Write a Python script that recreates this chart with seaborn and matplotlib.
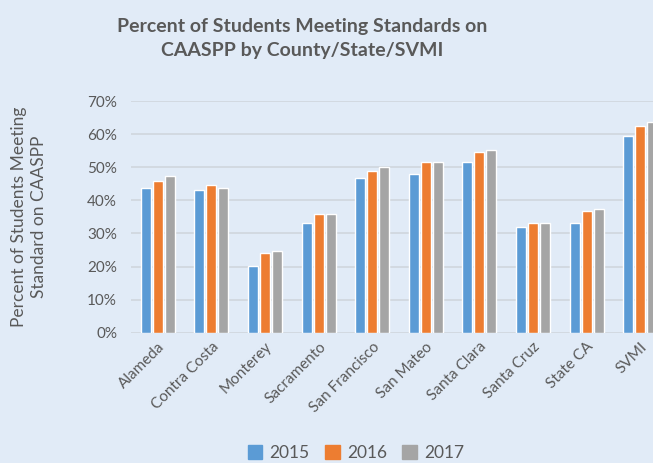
import matplotlib
matplotlib.use('Agg')
import matplotlib.pyplot as plt
from matplotlib.ticker import PercentFormatter
import seaborn as sns
import pandas as pd

# Chart values
counties = ['Alameda', 'Contra Costa', 'Monterey', 'Sacramento', 'San Francisco',
            'San Mateo', 'Santa Clara', 'Santa Cruz', 'State CA', 'SVMI']
years = ['2015', '2016', '2017']
pct_2015 = [43.7, 43.1, 20.2, 33.1, 46.7, 47.9, 51.6, 31.9, 33.1, 59.4]
pct_2016 = [45.8, 44.6, 24.1, 35.9, 48.9, 51.6, 54.6, 33.1, 36.8, 62.5]
pct_2017 = [47.3, 43.7, 24.7, 35.9, 50.1, 51.6, 55.2, 33.1, 37.4, 63.7]

df = pd.DataFrame({
    'County': counties * 3,
    'Year': [y for y in years for _ in counties],
    'Percent': pct_2015 + pct_2016 + pct_2017,
})

bg = '#E1EBF7'
text_col = '#595959'
palette = ['#5B9BD5', '#ED7D31', '#A5A5A5']

sns.set_theme(style='white')
plt.rcParams['font.family'] = ['Lato', 'DejaVu Sans']

fig = plt.figure(figsize=(6.53, 4.63), dpi=100, facecolor=bg)
# axes runs past the right edge, like the cropped original
ax = fig.add_axes([131 / 653, 0.2814, 536 / 653, 0.5004], facecolor=bg)

sns.barplot(data=df, x='County', y='Percent', hue='Year', palette=palette,
            width=0.67, gap=0.17, ax=ax, legend=False, saturation=1)

ax.set_ylim(0, 70)
ax.set_xlim(-0.5, len(counties) - 0.5)
ax.set_yticks(range(0, 71, 10))
ax.yaxis.set_major_formatter(PercentFormatter(decimals=0))
ax.grid(axis='y', color='#D0D6DD', linewidth=1.2)
ax.set_axisbelow(True)
for s in ax.spines.values():
    s.set_visible(False)
ax.tick_params(axis='both', length=0, colors=text_col, labelsize=11)
ax.tick_params(axis='y', pad=10)
ax.tick_params(axis='x', pad=5)
plt.setp(ax.get_xticklabels(), rotation=45, ha='right', rotation_mode='anchor')
ax.set_xlabel('')
ax.set_ylabel('Percent of Students Meeting\nStandard on CAASPP', color=text_col,
              fontsize=12.5, linespacing=1.3)
ax.yaxis.set_label_coords(-0.157, 0.5)

fig.text(0.463, 0.917, 'Percent of Students Meeting Standards on\nCAASPP by County/State/SVMI',
         ha='center', va='center', fontsize=14, fontweight='bold', color=text_col,
         linespacing=1.45)

handles = [plt.Rectangle((0, 0), 1, 1, color=c) for c in palette]
fig.legend(handles, years, loc='lower center', bbox_to_anchor=(0.545, -0.03),
           ncol=3, frameon=False, fontsize=12.5, handlelength=0.85, handleheight=0.85,
           handletextpad=0.4, columnspacing=0.9, labelcolor=text_col)

fig.savefig('out.png', dpi=100, facecolor=bg)
